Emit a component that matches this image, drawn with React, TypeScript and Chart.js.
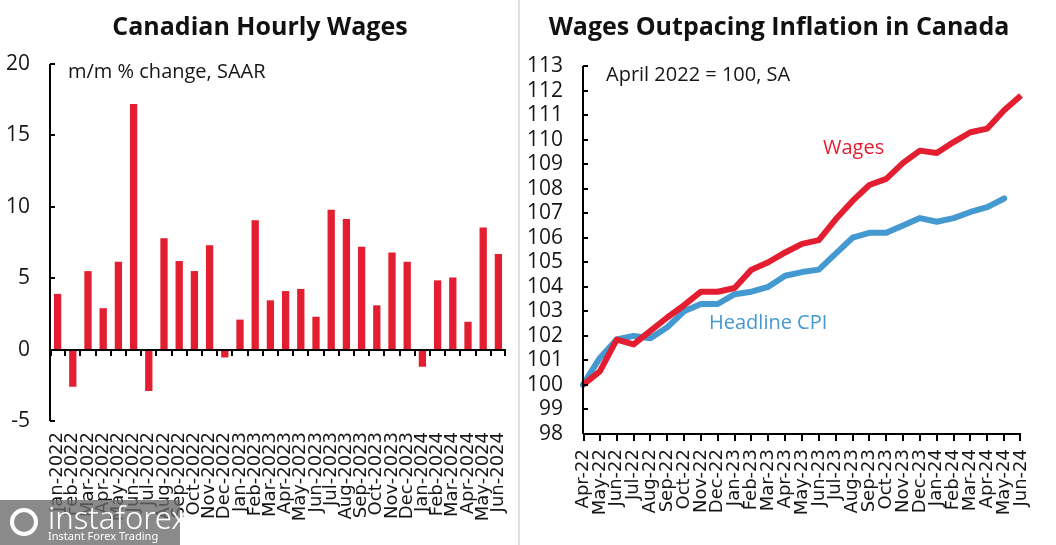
import React, { useEffect, useRef } from "react";
import { Chart, registerables } from "chart.js";

Chart.register(...registerables);

// ---------- DATA ----------
const wageMonths = [
  "Jan-2022", "Feb-2022", "Mar-2022", "Apr-2022", "May-2022", "Jun-2022",
  "Jul-2022", "Aug-2022", "Sep-2022", "Oct-2022", "Nov-2022", "Dec-2022",
  "Jan-2023", "Feb-2023", "Mar-2023", "Apr-2023", "May-2023", "Jun-2023",
  "Jul-2023", "Aug-2023", "Sep-2023", "Oct-2023", "Nov-2023", "Dec-2023",
  "Jan-2024", "Feb-2024", "Mar-2024", "Apr-2024", "May-2024", "Jun-2024",
];
const wageChange = [
  3.9, -2.6, 5.5, 2.9, 6.15, 17.2,
  -2.9, 7.8, 6.2, 5.5, 7.3, -0.55,
  2.1, 9.05, 3.45, 4.1, 4.25, 2.3,
  9.8, 9.15, 7.2, 3.1, 6.8, 6.15,
  -1.2, 4.85, 5.05, 1.95, 8.55, 6.7,
];

const indexMonths = [
  "Apr-22", "May-22", "Jun-22", "Jul-22", "Aug-22", "Sep-22", "Oct-22",
  "Nov-22", "Dec-22", "Jan-23", "Feb-23", "Mar-23", "Apr-23", "May-23",
  "Jun-23", "Jul-23", "Aug-23", "Sep-23", "Oct-23", "Nov-23", "Dec-23",
  "Jan-24", "Feb-24", "Mar-24", "Apr-24", "May-24", "Jun-24",
];
const wagesIndex = [
  100, 100.55, 101.85, 101.65, 102.2, 102.75, 103.25,
  103.8, 103.8, 103.95, 104.7, 105.0, 105.4, 105.75,
  105.9, 106.75, 107.5, 108.15, 108.4, 109.05, 109.55,
  109.45, 109.9, 110.3, 110.45, 111.2, 111.8,
];
const cpiIndex = [
  100, 101.1, 101.85, 102.0, 101.9, 102.35, 103.0,
  103.3, 103.3, 103.7, 103.8, 104.0, 104.45, 104.6,
  104.7, 105.35, 106.0, 106.2, 106.2, 106.5, 106.8,
  106.65, 106.8, 107.05, 107.25, 107.6, null,
];

const leftTicks = { min: -5, max: 20, step: 5 };
const rightTicks = { min: 98, max: 113, step: 1 };

// ---------- STYLE ----------
const RED = "#E31E30";
const BLUE = "#4499D1";
const TEXT = "#161616";
const UI_FONT = "'Open Sans', 'Noto Sans', sans-serif";
const LABEL_FONT = "'DejaVu Sans', sans-serif";

function makeAxesPlugin(kind: "bar" | "line") {
  return {
    id: "customAxes_" + kind,
    afterDatasetsDraw(chart: any) {
      const { ctx, chartArea: a, scales } = chart;
      const xs = scales.x;
      const ys = scales.y;
      ctx.save();
      ctx.strokeStyle = "#000";
      ctx.lineWidth = 2;
      ctx.beginPath();
      ctx.moveTo(a.left, a.top);
      ctx.lineTo(a.left, a.bottom);
      ys.ticks.forEach((t: any) => {
        const py = Math.round(ys.getPixelForValue(t.value));
        ctx.moveTo(a.left, py);
        ctx.lineTo(a.left + 5, py);
      });
      if (kind === "bar") {
        const y0 = Math.round(ys.getPixelForValue(0));
        ctx.moveTo(a.left, y0);
        ctx.lineTo(a.right, y0);
        const n = xs.ticks.length;
        for (let i = 0; i <= n; i++) {
          const px =
            i === 0
              ? a.left + 1
              : i === n
              ? a.right - 1
              : Math.round((xs.getPixelForValue(i - 1) + xs.getPixelForValue(i)) / 2);
          ctx.moveTo(px, y0);
          ctx.lineTo(px, y0 + 6);
        }
      } else {
        const yb = Math.round(a.bottom);
        ctx.moveTo(a.left, yb);
        ctx.lineTo(a.right, yb);
        xs.ticks.forEach((_t: any, i: number) => {
          let px = Math.round(xs.getPixelForValue(i));
          if (i === 0) px = a.left + 1;
          if (i === xs.ticks.length - 1) px = a.right - 1;
          ctx.moveTo(px, yb);
          ctx.lineTo(px, yb + 7);
        });
      }
      ctx.stroke();
      ctx.restore();
    },
  };
}

function fixX(height: number) {
  return (s: any) => {
    s.height = height;
    s.paddingLeft = 0;
    s.paddingRight = 0;
  };
}
function fixY(width: number) {
  return (s: any) => {
    s.width = width;
    s.paddingTop = 0;
    s.paddingBottom = 0;
  };
}

function BarPanel() {
  const ref = useRef<HTMLCanvasElement | null>(null);
  useEffect(() => {
    if (!ref.current) return;
    const chart = new Chart(ref.current, {
      type: "bar",
      data: {
        labels: wageMonths,
        datasets: [
          {
            data: wageChange,
            backgroundColor: RED,
            borderWidth: 0,
            barPercentage: 0.48,
            categoryPercentage: 1,
          },
        ],
      },
      options: {
        animation: false,
        responsive: false,
        devicePixelRatio: 1,
        layout: { padding: { top: 64, right: 12, left: 0, bottom: 0 } },
        plugins: { legend: { display: false }, tooltip: { enabled: false } },
        scales: {
          x: {
            grid: { display: false, drawTicks: false },
            border: { display: false },
            ticks: {
              autoSkip: false,
              minRotation: 90,
              maxRotation: 90,
              padding: 11,
              color: TEXT,
              font: { family: LABEL_FONT, size: 18 },
            },
            afterFit: fixX(124),
          },
          y: {
            min: leftTicks.min,
            max: leftTicks.max,
            grid: { display: false, drawTicks: false },
            border: { display: false },
            ticks: {
              autoSkip: false,
              stepSize: leftTicks.step,
              padding: 20,
              color: TEXT,
              font: { family: UI_FONT, size: 21 },
            },
            afterFit: fixY(50),
          },
        },
      },
      plugins: [makeAxesPlugin("bar")],
    } as any);
    return () => chart.destroy();
  }, []);
  return <canvas ref={ref} width={518} height={545} style={{ position: "absolute", left: 0, top: 0 }} />;
}

function LinePanel() {
  const ref = useRef<HTMLCanvasElement | null>(null);
  useEffect(() => {
    if (!ref.current) return;
    const chart = new Chart(ref.current, {
      type: "line",
      data: {
        labels: indexMonths,
        datasets: [
          {
            label: "Wages",
            data: wagesIndex,
            borderColor: RED,
            borderWidth: 6,
            pointRadius: 0,
            tension: 0,
            fill: false,
            borderCapStyle: "butt",
            borderJoinStyle: "round",
          },
          {
            label: "Headline CPI",
            data: cpiIndex,
            borderColor: BLUE,
            borderWidth: 6,
            pointRadius: 0,
            tension: 0,
            fill: false,
            borderCapStyle: "round",
            borderJoinStyle: "round",
          },
        ],
      },
      options: {
        animation: false,
        responsive: false,
        devicePixelRatio: 1,
        layout: { padding: { top: 66, right: 35, left: 0, bottom: 0 } },
        plugins: { legend: { display: false }, tooltip: { enabled: false } },
        scales: {
          x: {
            offset: false,
            grid: { display: false, drawTicks: false },
            border: { display: false },
            ticks: {
              autoSkip: false,
              minRotation: 90,
              maxRotation: 90,
              padding: 15,
              color: TEXT,
              font: { family: LABEL_FONT, size: 18 },
            },
            afterFit: fixX(111),
          },
          y: {
            min: rightTicks.min,
            max: rightTicks.max,
            grid: { display: false, drawTicks: false },
            border: { display: false },
            ticks: {
              autoSkip: false,
              stepSize: rightTicks.step,
              padding: 20,
              color: TEXT,
              font: { family: UI_FONT, size: 21 },
            },
            afterFit: fixY(63),
          },
        },
      },
      plugins: [makeAxesPlugin("line")],
    } as any);
    return () => chart.destroy();
  }, []);
  return <canvas ref={ref} width={536} height={545} style={{ position: "absolute", left: 520, top: 0 }} />;
}

const abs = (s: React.CSSProperties): React.CSSProperties => ({ position: "absolute", whiteSpace: "nowrap", ...s });

export default function App() {
  return (
    <div
      style={{
        position: "fixed",
        left: 0,
        top: 0,
        width: 1056,
        height: 545,
        overflow: "hidden",
        background: "#fff",
        fontFamily: UI_FONT,
      }}
    >
      <BarPanel />
      <LinePanel />
      <div style={abs({ left: 518, top: 0, width: 2, height: 545, background: "#e0e0e0" })} />
      <div style={abs({ left: 0, width: 520, top: 8, textAlign: "center", fontWeight: 700, fontSize: 25, color: "#111" })}>
        Canadian Hourly Wages
      </div>
      <div style={abs({ left: 520, width: 518, top: 8, textAlign: "center", fontWeight: 700, fontSize: 25, color: "#111" })}>
        Wages Outpacing Inflation in Canada
      </div>
      <div style={abs({ left: 68, top: 57, fontSize: 20, color: TEXT })}>m/m % change, SAAR</div>
      <div style={abs({ left: 606, top: 60, fontSize: 20, color: TEXT })}>April 2022 = 100, SA</div>
      <div style={abs({ left: 823, top: 133, fontSize: 20, color: RED })}>Wages</div>
      <div style={abs({ left: 709, top: 308, fontSize: 20, color: BLUE })}>Headline CPI</div>
      <div
        style={abs({
          left: 0,
          top: 500,
          width: 180,
          height: 45,
          background: "rgba(105,105,105,0.78)",
          color: "#fff",
        })}
      >
        <div style={abs({ left: 48, top: -4, fontSize: 31, fontFamily: "'Noto Sans', sans-serif", fontWeight: 300 })}>instaforex</div>
        <div style={abs({ left: 48, top: 28, fontSize: 11, fontFamily: "'Noto Sans', sans-serif" })}>Instant Forex Trading</div>
        <div
          style={abs({
            left: 10,
            top: 8,
            width: 28,
            height: 28,
            borderRadius: 14,
            border: "4px solid #fff",
            boxSizing: "border-box",
          })}
        />
      </div>
    </div>
  );
}
